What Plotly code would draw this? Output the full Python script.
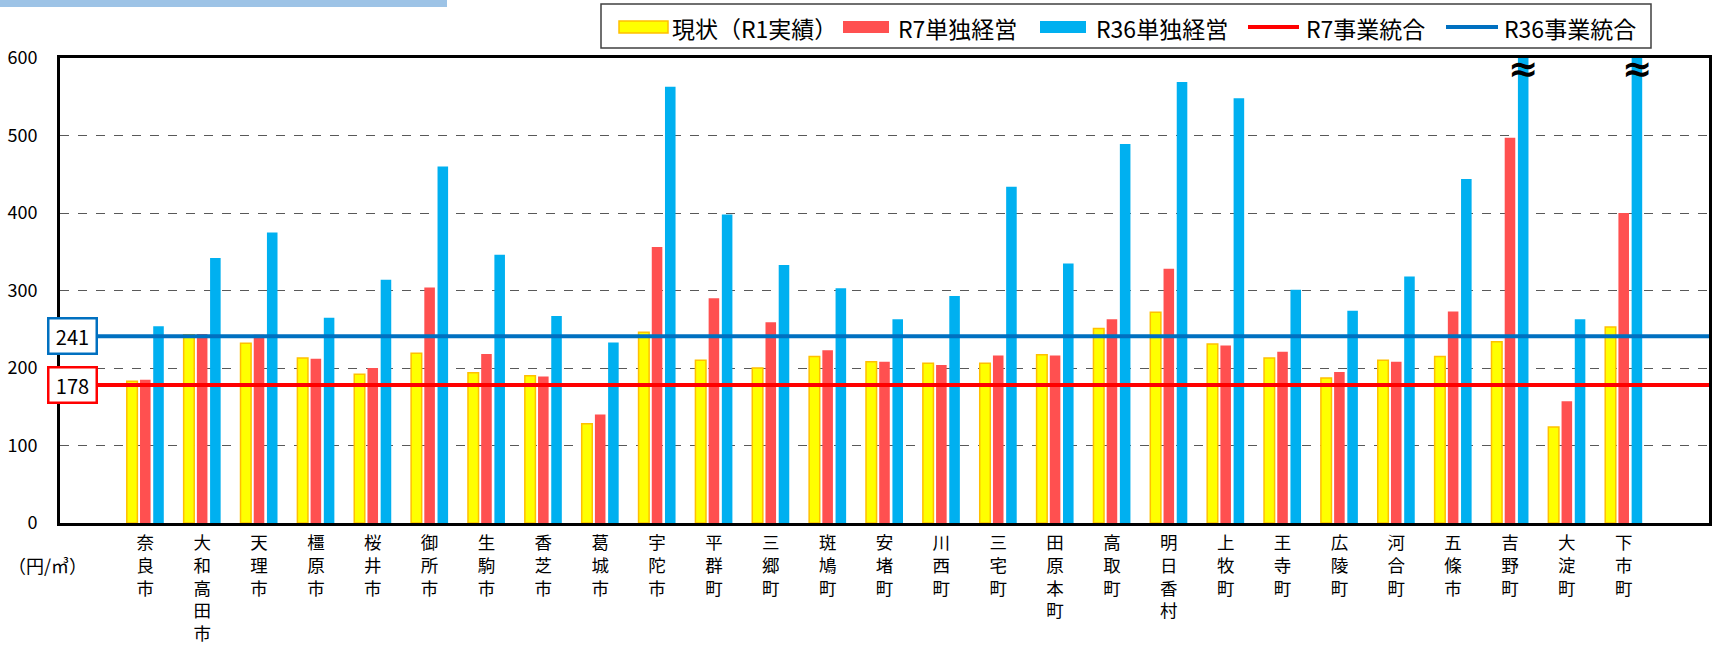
import plotly.graph_objects as go

categories = ["奈良市", "大和高田市", "天理市", "橿原市", "桜井市", "御所市", "生駒市", "香芝市", "葛城市",
              "宇陀市", "平群町", "三郷町", "斑鳩町", "安堵町", "川西町", "三宅町", "田原本町", "高取町",
              "明日香村", "上牧町", "王寺町", "広陵町", "河合町", "五條市", "吉野町", "大淀町", "下市町"]
current_r1 = [183, 243, 232, 213, 192, 219, 194, 190, 128, 246, 210, 200, 215, 208, 206, 206, 217, 251,
              272, 231, 213, 187, 210, 215, 234, 124, 253]
r7_single = [185, 244, 243, 212, 200, 304, 218, 189, 140, 356, 290, 259, 223, 208, 204, 216, 216, 263,
             328, 229, 221, 195, 208, 273, 497, 157, 400]
r36_single = [254, 342, 375, 265, 314, 460, 346, 267, 233, 563, 398, 333, 303, 263, 293, 434, 335, 489,
              569, 548, 301, 274, 318, 444, 700, 263, 700]
r7_integrated = 178
r36_integrated = 241
y_ticks = [0, 100, 200, 300, 400, 500, 600]
broken = ["吉野町", "下市町"]
series_names = ["現状（R1実績）", "R7単独経営", "R36単独経営", "R7事業統合", "R36事業統合"]

FONT = "Noto Sans CJK JP"
idx = list(range(len(categories)))
x_range = [-1.5, len(categories) + 0.5]

W, H = 1717, 647
ml, mr, mt, mb = 60, 8, 58, 124
pw, ph = W - ml - mr, H - mt - mb


def px(x):
    return (x - ml) / pw


def py(y):
    return 1 - (y - mt) / ph


YELLOW, YEL_EDGE, RED, BLUE, LRED, LBLUE = "#FFFF00", "#FFC000", "#FF5050", "#00B0F0", "#FF0000", "#0070C0"

fig = go.Figure()
fig.add_trace(go.Bar(x=idx, y=current_r1, name=series_names[0],
                     marker=dict(color=YELLOW, line=dict(color=YEL_EDGE, width=1.5))))
fig.add_trace(go.Bar(x=idx, y=r7_single, name=series_names[1],
                     marker=dict(color=RED, line=dict(width=0))))
fig.add_trace(go.Bar(x=idx, y=r36_single, name=series_names[2],
                     marker=dict(color=BLUE, line=dict(width=0))))
fig.add_trace(go.Scatter(x=x_range, y=[r7_integrated] * 2, mode="lines", name=series_names[3],
                         line=dict(color=LRED, width=4)))
fig.add_trace(go.Scatter(x=x_range, y=[r36_integrated] * 2, mode="lines", name=series_names[4],
                         line=dict(color=LBLUE, width=4)))

annotations = []
shapes = []
for name in broken:
    annotations.append(dict(x=categories.index(name), y=600, xref="x", yref="y", text="<b>≈</b>",
                            showarrow=False, xshift=13, yshift=-10,
                            font=dict(size=36, color="black", family="DejaVu Sans")))
for val, col in [(r36_integrated, LBLUE), (r7_integrated, LRED)]:
    annotations.append(dict(x=px(72.5), y=val, xref="paper", yref="y", xanchor="center", yanchor="middle",
                            text=str(val), showarrow=False,
                            bgcolor="white", bordercolor=col, borderwidth=2.5, borderpad=2,
                            width=42, height=29, font=dict(size=20, color="black", family=FONT)))
annotations.append(dict(x=px(47), y=py(565), xref="paper", yref="paper", xanchor="center",
                        yanchor="middle", text="（円/㎥）", showarrow=False,
                        font=dict(size=18, color="black", family=FONT)))

# header strip
shapes.append(dict(type="rect", xref="paper", yref="paper", x0=px(0), x1=px(447),
                   y0=py(7), y1=py(0), fillcolor="#9DC3E6", line=dict(width=0)))

# legend (drawn manually to match swatch sizes)
shapes.append(dict(type="rect", xref="paper", yref="paper", x0=px(601), x1=px(1651),
                   y0=py(48), y1=py(4), fillcolor="white", line=dict(color="#404040", width=1.5)))
leg_y = 27
swatches = [(619, 668, "bar", YELLOW, YEL_EDGE), (843, 889, "bar", RED, RED),
            (1040, 1086, "bar", BLUE, BLUE), (1248, 1299, "line", LRED, None),
            (1446, 1498, "line", LBLUE, None)]
text_x = [670, 896, 1094, 1304, 1502]
for (x0, x1, kind, col, edge), tx, name in zip(swatches, text_x, series_names):
    if kind == "bar":
        shapes.append(dict(type="rect", xref="paper", yref="paper", x0=px(x0), x1=px(x1),
                           y0=py(leg_y + 6), y1=py(leg_y - 6), fillcolor=col,
                           line=dict(color=edge, width=1.5 if edge != col else 0)))
    else:
        shapes.append(dict(type="line", xref="paper", yref="paper", x0=px(x0), x1=px(x1),
                           y0=py(leg_y), y1=py(leg_y), line=dict(color=col, width=4)))
    annotations.append(dict(x=px(tx), y=py(leg_y + 1), xref="paper", yref="paper", xanchor="left",
                            yanchor="middle", text=name, showarrow=False,
                            font=dict(size=23, color="black", family=FONT)))

fig.update_layout(
    width=W, height=H, autosize=False,
    margin=dict(l=ml, r=mr, t=mt, b=mb),
    paper_bgcolor="white", plot_bgcolor="white",
    barmode="group", bargap=0.303, bargroupgap=0.2,
    font=dict(family=FONT, size=18, color="black"),
    showlegend=False,
    annotations=annotations,
    shapes=shapes,
)
fig.update_xaxes(range=x_range, tickmode="array", tickvals=idx,
                 ticktext=["<br>".join(list(c)) for c in categories],
                 tickfont=dict(size=17.5, family=FONT), tickangle=0, showgrid=False,
                 showline=True, linecolor="black", linewidth=3, mirror=True, zeroline=False,
                 ticks="", ticklabelstandoff=2, automargin=False, fixedrange=True)
fig.update_yaxes(range=[0, 600], tickmode="array", tickvals=y_ticks, tickfont=dict(size=18, family=FONT),
                 showgrid=True, gridcolor="#595959", griddash="dash", gridwidth=1.3,
                 showline=True, linecolor="black", linewidth=3, mirror=True, zeroline=False,
                 ticks="", ticklabelstandoff=16, automargin=False, fixedrange=True)

fig.write_html("out.html", config={"displayModeBar": False},
               post_script="document.body.style.margin='0';")
